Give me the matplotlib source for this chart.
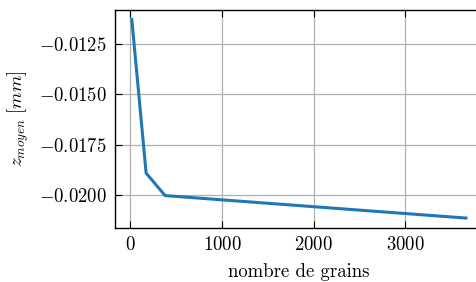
import matplotlib
matplotlib.use("Agg")
import matplotlib.pyplot as plt

# nombre de grains vs z moyen
n_grains = [18, 174, 381, 3660]
z_moyen = [-0.01126, -0.01892, -0.02004, -0.02116]

plt.rcParams['font.family'] = 'serif'
plt.rcParams['font.serif'] = ['cmr10']
plt.rcParams['mathtext.fontset'] = 'cm'
plt.rcParams['axes.formatter.use_mathtext'] = True
plt.rcParams['font.size'] = 13.5

fig = plt.figure(figsize=(4.77, 2.82), dpi=100)
ax = fig.add_axes([115.1/477, 54/282, (482.7-115.1)/477, (228-9.5)/282])
ax.plot(n_grains, z_moyen, color='#1f77b4', lw=2.2)
ax.grid(True, color='#b0b0b0', lw=0.9)
ax.tick_params(direction='in', top=True, right=True, length=5, width=0.8, pad=6)
ax.set_xticks([0, 1000, 2000, 3000])
ax.set_yticks([-0.0125, -0.0150, -0.0175, -0.0200])
ax.set_xlabel('nombre de grains', labelpad=6)
ax.set_ylabel(r'$z_{moyen}\ [mm]$', labelpad=6)
for s in ax.spines.values():
    s.set_linewidth(1.0)
fig.savefig('out.png', dpi=100)
